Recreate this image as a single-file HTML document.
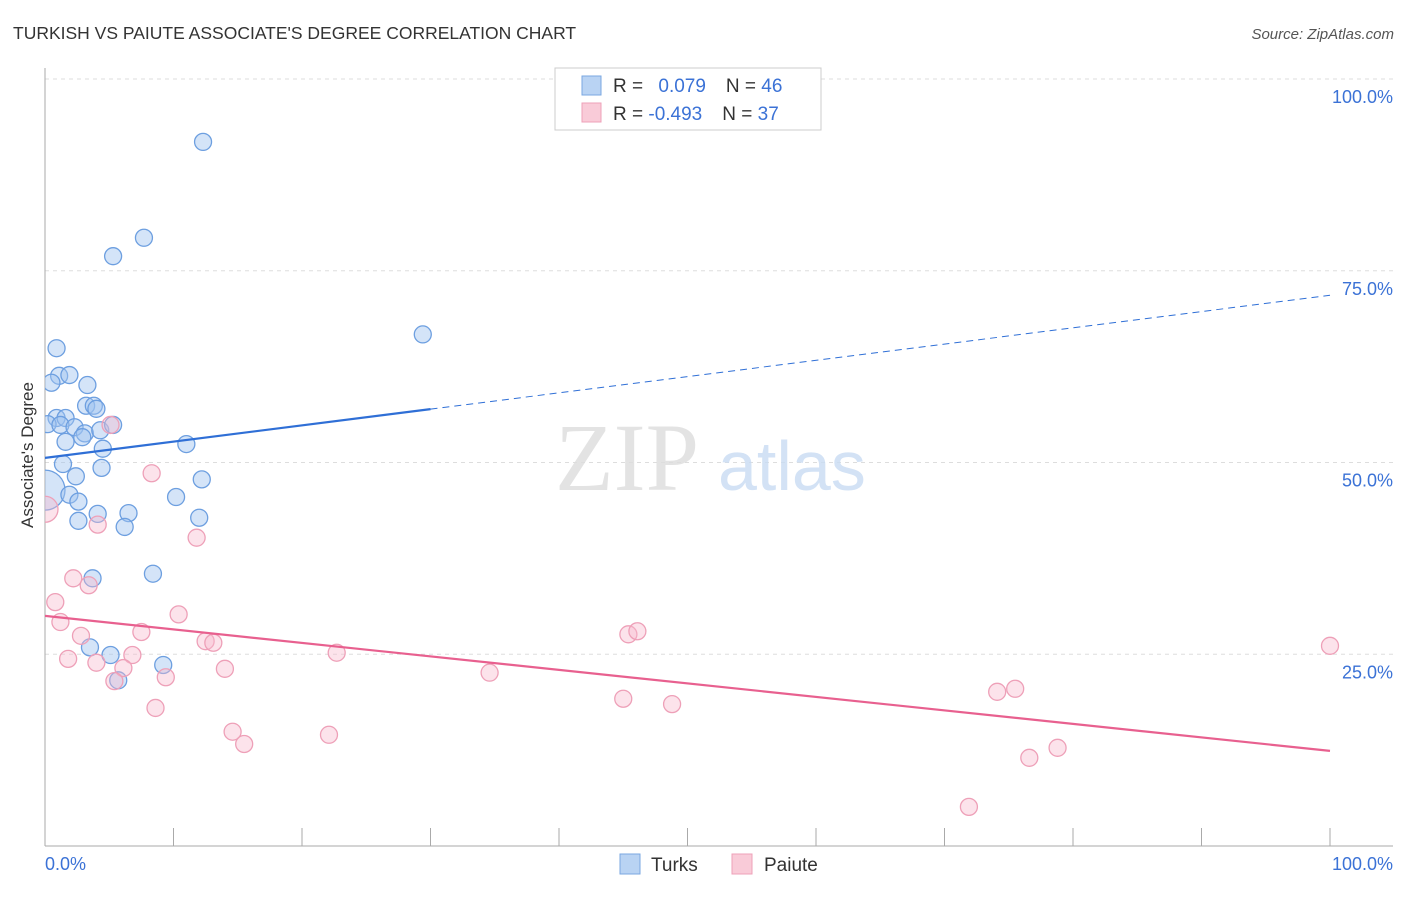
<!DOCTYPE html>
<html><head><meta charset="utf-8"><style>
body{margin:0;background:#fff;font-family:"Liberation Sans",sans-serif;}
</style></head><body>
<svg id="chart" width="1406" height="892" xmlns="http://www.w3.org/2000/svg" style="font-family:'Liberation Sans',sans-serif">
<defs><clipPath id="plotclip"><rect x="45" y="60" width="1360" height="786"/></clipPath></defs>
<text x="13" y="39" font-size="17.5" fill="#333">TURKISH VS PAIUTE ASSOCIATE'S DEGREE CORRELATION CHART</text>
<text x="1394" y="39" font-size="15" fill="#555" text-anchor="end" font-style="italic">Source: ZipAtlas.com</text>
<g id="grid"></g>
<text x="555" y="490" font-size="96" fill="#ddd" font-family="Liberation Serif" opacity="0.8">ZIP</text>
<text x="718" y="490" font-size="70" fill="#c9dcf3" opacity="0.8">atlas</text>
<text transform="translate(33,455) rotate(-90)" font-size="17" fill="#333" text-anchor="middle">Associate's Degree</text>
<g id="marks" clip-path="url(#plotclip)"></g>
<g>
<rect x="555" y="68" width="266" height="62" fill="#fff" stroke="#ccc"/>
<rect x="582" y="76" width="19" height="19" fill="#b9d3f3" stroke="#7aa7e0"/>
<rect x="582" y="103" width="19" height="19" fill="#f9cbd8" stroke="#eea0b8"/>
<text x="613" y="92" font-size="19" fill="#333">R = <tspan fill="#3b72d6" dx="10">0.079</tspan><tspan dx="20" fill="#333">N = </tspan><tspan fill="#3b72d6">46</tspan></text>
<text x="613" y="120" font-size="19" fill="#333">R = <tspan fill="#3b72d6">-0.493</tspan><tspan dx="20" fill="#333">N = </tspan><tspan fill="#3b72d6">37</tspan></text>
</g>
<g>
<rect x="620" y="854" width="20" height="20" fill="#b9d3f3" stroke="#7aa7e0"/>
<text x="651" y="871" font-size="19" fill="#333">Turks</text>
<rect x="732" y="854" width="20" height="20" fill="#f9cbd8" stroke="#eea0b8"/>
<text x="764" y="871" font-size="19" fill="#333">Paiute</text>
</g>
<text x="45" y="870" font-size="18" fill="#3b72d6">0.0%</text>
<text x="1393" y="870" font-size="18" fill="#3b72d6" text-anchor="end">100.0%</text>
</svg>
<script>
const yTicks=[25,50,75,100];
const yTickLabels=["25.0%","50.0%","75.0%","100.0%"];
const turksX=[12.3,7.7,5.3,29.4,0.9,1.1,1.9,0.5,3.3,3.2,3.8,4.0,0.9,1.6,0.2,1.2,2.3,3.1,2.9,4.3,5.3,1.6,11.0,4.5,1.4,4.4,2.4,12.2,0,1.9,2.6,10.2,4.1,6.5,2.6,12.0,6.2,8.4,3.7,3.5,5.1,9.2,5.7];
const turksY=[91.8,79.3,76.9,66.7,64.9,61.3,61.4,60.4,60.1,57.4,57.4,57.0,55.8,55.8,55.0,54.9,54.6,53.8,53.3,54.2,54.9,52.7,52.4,51.8,49.8,49.3,48.2,47.8,46.4,45.8,44.9,45.5,43.3,43.4,42.4,42.8,41.6,35.5,34.9,25.9,24.9,23.6,21.6];
const paiuteX=[5.1,8.3,0,4.1,11.8,2.2,3.4,0.8,10.4,1.2,2.8,7.5,12.5,13.1,45.4,46.1,100,1.8,4.0,6.8,22.7,6.1,14.0,34.6,9.4,5.4,8.6,45.0,48.8,74.1,75.5,14.6,22.1,15.5,78.8,76.6,71.9];
const paiuteY=[54.9,48.6,43.9,41.9,40.2,34.9,34.0,31.8,30.2,29.2,27.4,27.9,26.7,26.5,27.6,28.0,26.1,24.4,23.9,24.9,25.2,23.2,23.1,22.6,22.0,21.5,18.0,19.2,18.5,20.1,20.5,14.9,14.5,13.3,12.8,11.5,5.1];
const turksTrend=[50.6,71.8];
const paiuteTrend=[30.0,12.4];
const X0=45,X1=1330,Y0=846,YS=7.67;
const sx=v=>X0+v*(X1-X0)/100, sy=v=>Y0-v*YS;
const NS="http://www.w3.org/2000/svg";
function mk(t,a,p){const e=document.createElementNS(NS,t);for(const k in a)e.setAttribute(k,a[k]);p.appendChild(e);return e;}
const grid=document.getElementById('grid'),marks=document.getElementById('marks');
yTicks.forEach((t,i)=>{
 const l=mk('line',{x1:45,x2:1393,y1:sy(t),y2:sy(t),stroke:'#ddd','stroke-dasharray':'4,4'},grid);
 
 
 const tx=mk('text',{x:1393,y:sy(t)+24,'font-size':18,fill:'#3b72d6','text-anchor':'end'},grid);
 tx.textContent=yTickLabels[i];
 
 
});
const ax=mk('line',{x1:45,x2:45,y1:68,y2:846,stroke:'#aaa'},grid);


const bx=mk('line',{x1:45,x2:1393,y1:846,y2:846,stroke:'#aaa'},grid);


for(let i=0;i<=10;i++){const t=mk('line',{x1:sx(i*10),x2:sx(i*10),y1:828,y2:846,stroke:'#aaa'},grid);
 
 }
turksX.forEach((x,i)=>{const big=x===0;const c=mk('circle',{cx:sx(x),cy:sy(turksY[i]),r:big?20:8.5,fill:'rgba(160,196,240,0.45)',stroke:'#6d9fe0','stroke-width':1.3},marks);
 
 });
paiuteX.forEach((x,i)=>{const big=x===0;const c=mk('circle',{cx:sx(x),cy:sy(paiuteY[i]),r:big?13:8.5,fill:'rgba(248,185,205,0.4)',stroke:'#eea0b8','stroke-width':1.3},marks);
 
 });
const tv=x=>turksTrend[0]+(turksTrend[1]-turksTrend[0])*x/100;
const t1=mk('line',{x1:sx(0),y1:sy(tv(0)),x2:sx(30),y2:sy(tv(30)),stroke:'#2f6fd6','stroke-width':2.2},marks);


const t2=mk('line',{x1:sx(30),y1:sy(tv(30)),x2:sx(100),y2:sy(tv(100)),stroke:'#2f6fd6','stroke-width':1,'stroke-dasharray':'7,5'},marks);


const p1=mk('line',{x1:sx(0),y1:sy(paiuteTrend[0]),x2:sx(100),y2:sy(paiuteTrend[1]),stroke:'#e8608f','stroke-width':2.2},marks);


</script>
</body></html>
